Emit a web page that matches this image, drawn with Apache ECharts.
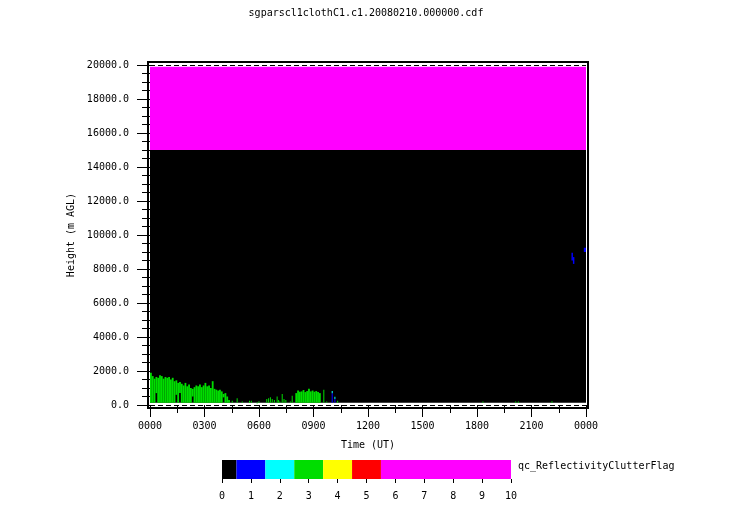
<!DOCTYPE html>
<html>
<head>
<meta charset="utf-8">
<script src="https://cdn.jsdelivr.net/npm/echarts@6/dist/echarts.min.js"></script>
<style>html,body{margin:0;padding:0;background:#fff}#c{width:732px;height:524px}</style>
</head>
<body>
<div id="c"></div>
<script>
// ---- data ----
const titleText = 'sgparscl1clothC1.c1.20080210.000000.cdf';
const colorbarName = 'qc_ReflectivityClutterFlag';
const xTicksHours = [0, 3, 6, 9, 12, 15, 18, 21, 24];
const yTicks = [0, 2000, 4000, 6000, 8000, 10000, 12000, 14000, 16000, 18000, 20000];
const flagTicks = [0, 1, 2, 3, 4, 5, 6, 7, 8, 9, 10];

// background bands: [startHour, endHour, bottom m, top m, flag]
const bandStart = [0, 0];
const bandEnd = [24, 24];
const bandBottom = [130, 15000];
const bandTop = [15000, 19900];
const bandFlag = [0, 8];

// dense clutter block (flag 3), columns every 0.1 h
const denseStep = 0.1;
const denseTimes = [0.0,0.1,0.2,0.3,0.4,0.5,0.6,0.7,0.8,0.9,1.0,1.1,1.2,1.3,1.4,1.5,1.6,1.7,1.8,1.9,2.0,2.1,2.2,2.3,2.4,2.5,2.6,2.7,2.8,2.9,3.0,3.1,3.2,3.3,3.4,3.5,3.6,3.7,3.8,3.9,4.0,4.1,4.2,4.3];
const denseTops  = [1900,1700,1550,1650,1600,1750,1700,1550,1650,1600,1650,1500,1600,1400,1450,1300,1350,1250,1150,1300,1100,1200,1000,950,1050,1150,1100,1200,1050,1150,1300,1100,1150,1000,1400,950,900,850,900,800,650,700,500,300];
const denseBases = [130,130,130,700,130,130,130,130,130,130,130,130,130,130,600,130,700,130,130,130,130,130,130,500,130,130,130,130,130,130,130,130,130,130,130,130,130,130,130,130,450,130,130,130];

// sparse clutter (flag 3): single thin columns
const sparseTimes = [4.5,4.77,5.05,5.45,5.55,5.87,5.97,6.4,6.5,6.6,6.7,6.82,6.97,7.05,7.12,7.25,7.35,7.45,7.7,7.8,9.54,9.7,10.3,18.3,20.1,20.25,22.1];
const sparseTops  = [250,400,200,250,250,150,220,350,400,450,350,300,500,300,200,650,350,300,200,550,900,200,250,200,200,200,220];
const sparseWidth = 0.05;

// second block (flag 3)
const block2Times = [8.0,8.1,8.2,8.3,8.4,8.5,8.6,8.7,8.8,8.9,9.0,9.1,9.2,9.3];
const block2Tops  = [700,850,780,800,880,760,820,950,800,850,780,820,760,700];

// small blue / cyan echoes: [startHour, endHour, bottom m, top m, flag]
const echoStart  = [10.0, 10.0, 10.15, 10.15, 23.2, 23.28, 23.88];
const echoEnd    = [10.06, 10.06, 10.2, 10.2, 23.28, 23.36, 24.0];
const echoBottom = [130, 690, 130, 350, 8500, 8300, 9000];
const echoTop    = [690, 820, 350, 490, 8950, 8700, 9250];
const echoFlag   = [1, 2, 1, 2, 1, 1, 1];

// colorbar segments
const cbLow  = [0, 0.5, 1.5, 2.5, 3.5, 4.5, 5.5];
const cbHigh = [0.5, 1.5, 2.5, 3.5, 4.5, 5.5, 10];
const cbFlag = [0, 1, 2, 3, 4, 5, 8];

// ---- styles ----
const flagColors = ['#000000','#0000ff','#00ffff','#00dd00','#ffff00','#ff0000','#ff00ff','#ff00ff','#ff00ff','#ff00ff','#ff00ff'];
const FONT = 'DejaVu Sans Mono';

// ---- build ----
const cells = [];
for (let i = 0; i < bandStart.length; i++) cells.push([bandStart[i], bandEnd[i], bandBottom[i], bandTop[i], bandFlag[i]]);
for (let i = 0; i < denseTimes.length; i++) cells.push([denseTimes[i], denseTimes[i] + denseStep, denseBases[i], denseTops[i], 3]);
for (let i = 0; i < block2Times.length; i++) cells.push([block2Times[i], block2Times[i] + denseStep, 130, block2Tops[i], 3]);
for (let i = 0; i < sparseTimes.length; i++) cells.push([sparseTimes[i], sparseTimes[i] + sparseWidth, 130, sparseTops[i], 3]);
for (let i = 0; i < echoStart.length; i++) cells.push([echoStart[i], echoEnd[i], echoBottom[i], echoTop[i], echoFlag[i]]);

const cbData = cbLow.map((v, i) => [v, cbHigh[i], cbFlag[i]]);

function cellRender(params, api) {
  const p0 = api.coord([api.value(0), api.value(3)]);
  const p1 = api.coord([api.value(1), api.value(2)]);
  return {
    type: 'rect',
    shape: { x: p0[0], y: p0[1], width: Math.max(1, p1[0] - p0[0]), height: Math.max(1, p1[1] - p0[1]) },
    style: { fill: flagColors[api.value(4)] }
  };
}
function cbRender(params, api) {
  const p0 = api.coord([api.value(0), 1]);
  const p1 = api.coord([api.value(1), 0]);
  return {
    type: 'rect',
    shape: { x: p0[0], y: p0[1], width: p1[0] - p0[0], height: p1[1] - p0[1] },
    style: { fill: flagColors[api.value(2)] }
  };
}

const chart = echarts.init(document.getElementById('c'), null, { renderer: 'canvas' });
const txt = { fontFamily: FONT, fontSize: 10, color: '#000' };
chart.setOption({
  animation: false,
  backgroundColor: '#fff',
  title: { text: titleText, left: 'center', top: 3, textStyle: Object.assign({ fontWeight: 'normal' }, txt) },
  grid: [
    { left: 150, right: 146, top: 65, bottom: 119 },
    { left: 222, width: 289, top: 460, height: 19 }
  ],
  xAxis: [
    {
      gridIndex: 0, type: 'value', min: 0, max: 24, interval: 3,
      name: 'Time (UT)', nameLocation: 'middle', nameGap: 35, nameTextStyle: txt,
      axisLine: { show: false },
      axisTick: { show: true, length: 12, lineStyle: { color: '#000', width: 1 } },
      minorTick: { show: true, splitNumber: 2, length: 8, lineStyle: { color: '#000', width: 1 } },
      splitLine: { show: false },
      axisLabel: Object.assign({ margin: 16, formatter: v => String(v % 24).padStart(2, '0') + '00' }, txt)
    },
    {
      gridIndex: 1, type: 'value', min: 0, max: 10, interval: 1,
      axisLine: { show: false },
      axisTick: { show: true, length: 4, lineStyle: { color: '#000', width: 1 } },
      splitLine: { show: false },
      axisLabel: Object.assign({ margin: 12, formatter: v => String(v) }, txt)
    }
  ],
  yAxis: [
    {
      gridIndex: 0, type: 'value', min: 0, max: 20000, interval: 2000,
      name: 'Height (m AGL)', nameLocation: 'middle', nameGap: 70, nameTextStyle: txt,
      axisLine: { show: false },
      axisTick: { show: true, length: 13, lineStyle: { color: '#000', width: 1 } },
      minorTick: { show: true, splitNumber: 4, length: 8, lineStyle: { color: '#000', width: 1 } },
      splitLine: { show: false },
      axisLabel: Object.assign({ margin: 21, formatter: v => v.toFixed(1) }, txt)
    },
    { gridIndex: 1, type: 'value', min: 0, max: 1, show: false }
  ],
  series: [
    {
      type: 'custom', xAxisIndex: 0, yAxisIndex: 0, renderItem: cellRender, data: cells, clip: true, silent: true,
      markLine: {
        silent: true, symbol: 'none', animation: false,
        label: { show: false },
        lineStyle: { color: '#000', width: 1, type: [5, 3] },
        data: [{ yAxis: 0 }, { yAxis: 20000 }]
      }
    },
    { type: 'custom', xAxisIndex: 1, yAxisIndex: 1, renderItem: cbRender, data: cbData, silent: true }
  ],
  graphic: [
    { type: 'rect', z: 100, silent: true, shape: { x: 148, y: 62, width: 440, height: 346 },
      style: { fill: null, stroke: '#000', lineWidth: 2 } },
    { type: 'text', z: 100, left: 518, top: 461, silent: true,
      style: { text: colorbarName, font: '10px "DejaVu Sans Mono"', fill: '#000' } }
  ]
});
</script>
</body>
</html>
